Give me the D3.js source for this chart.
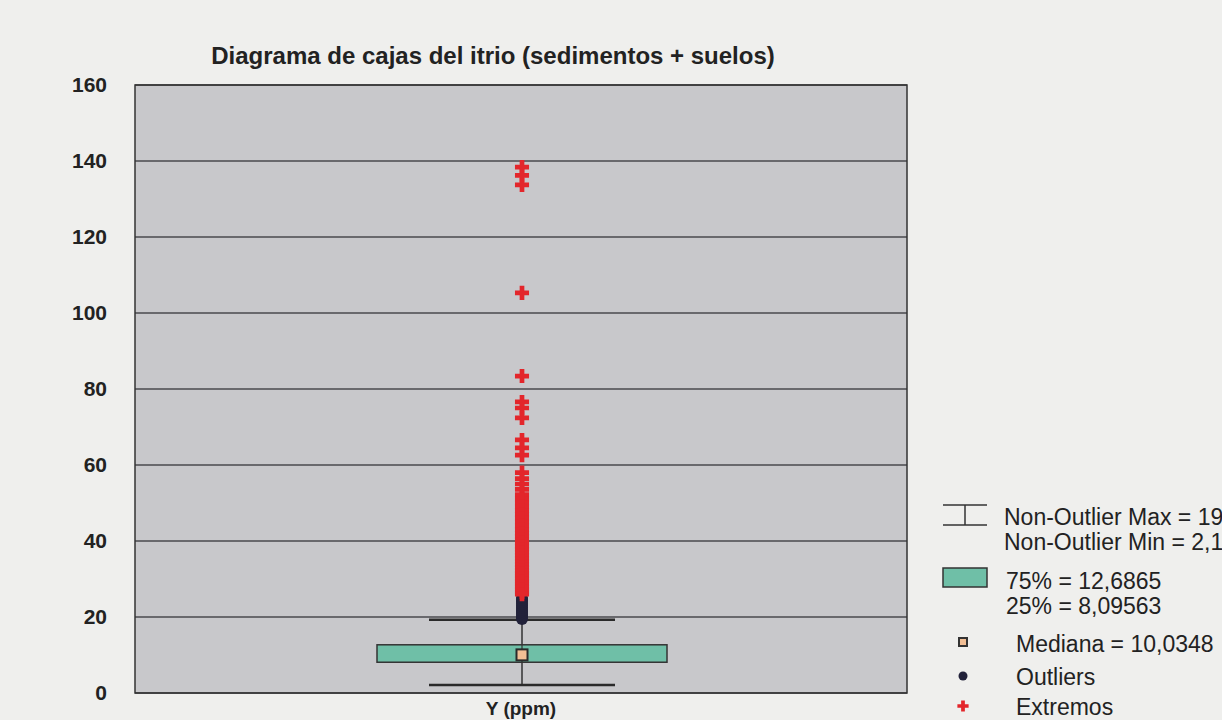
<!DOCTYPE html>
<html>
<head>
<meta charset="utf-8">
<script src="https://cdn.jsdelivr.net/npm/d3@7"></script>
<style>
  html, body { margin: 0; padding: 0; background: #efefed; overflow: hidden; }
  text { font-family: "Liberation Sans", Arial, sans-serif; }
</style>
</head>
<body>
<div id="chart"></div>
<script>
// ---- data ----
const categories = ["Y (ppm)"]
const boxStats = { min: 2.1, q1: 8.09563, median: 10.0348, q3: 12.6865, max: 19.25 }
const outliers = [19.5, 20, 20.5, 21, 21.5, 22, 22.5, 23, 23.5, 24, 24.5, 25]
const extremos = [138.4, 136.2, 133.7, 105.3, 83.4, 76.6, 75.0, 72.4, 66.6, 64.5, 62.6,
    58.0, 56.4, 55.0, 53.6, 52.2, 51.0, 50.0, 49.0, 48.0, 47.0, 46.0, 45.0, 44.0, 43.0,
    42.0, 41.2, 40.4, 39.5, 38.6, 37.8, 37.0, 36.2, 35.4, 34.6, 33.8, 33.0, 32.2, 31.5,
    30.8, 30.1, 29.4, 28.7, 28.0, 27.3, 26.6, 26.0]
const yTicks = [0, 20, 40, 60, 80, 100, 120, 140, 160]
const title = "Diagrama de cajas del itrio (sedimentos + suelos)"

const fmt = v => String(v).replace(".", ",")

const width = 1222, height = 720
const plot = { left: 135, right: 907, top: 85, bottom: 693 }

const svg = d3.select("#chart").append("svg")
    .attr("width", width)
    .attr("height", height)

let x = d3.scaleBand()
    .domain(categories)
    .range([plot.left, plot.right])

let y = d3.scaleLinear()
    .domain([0, 160])
    .range([plot.bottom, plot.top])

// plot background
svg.append("rect")
    .attr("x", plot.left)
    .attr("y", plot.top)
    .attr("width", plot.right - plot.left)
    .attr("height", plot.bottom - plot.top)
    .attr("fill", "#c8c8cb")

// grid lines
svg.append("g")
    .selectAll("line")
    .data(yTicks)
    .join("line")
    .attr("x1", plot.left)
    .attr("x2", plot.right)
    .attr("y1", d => y(d))
    .attr("y2", d => y(d))
    .attr("stroke", "#4a4a4e")
    .attr("stroke-width", 1.5)

// frame
svg.append("rect")
    .attr("x", plot.left)
    .attr("y", plot.top)
    .attr("width", plot.right - plot.left)
    .attr("height", plot.bottom - plot.top)
    .attr("fill", "none")
    .attr("stroke", "#333")
    .attr("stroke-width", 1.5)

// y axis labels
let yAxis = d3.axisLeft(y).tickValues(yTicks).tickSize(0).tickPadding(28)
let yg = svg.append("g")
    .attr("transform", "translate(" + plot.left + ",0)")
    .call(yAxis)
yg.select(".domain").remove()
yg.selectAll("text")
    .attr("font-family", '"Liberation Sans", Arial, sans-serif')
    .attr("font-size", 21)
    .attr("font-weight", "bold")
    .attr("fill", "#222")

// x axis label
let xAxis = d3.axisBottom(x).tickSize(0).tickPadding(0)
let xg = svg.append("g")
    .attr("transform", "translate(0," + plot.bottom + ")")
    .call(xAxis)
xg.select(".domain").remove()
xg.selectAll("text")
    .attr("dy", null)
    .attr("y", 22)
    .attr("font-family", '"Liberation Sans", Arial, sans-serif')
    .attr("font-size", 19)
    .attr("font-weight", "bold")
    .attr("fill", "#222")

// title
svg.append("text")
    .attr("x", 493)
    .attr("y", 64)
    .attr("text-anchor", "middle")
    .attr("font-size", 24)
    .attr("font-weight", "bold")
    .attr("fill", "#222")
    .text(title)

// ---- box plot ----
let cx = x(categories[0]) + x.bandwidth() / 2 + 1
let boxHalf = 145, capHalf = 93

let g = svg.append("g")

g.append("line")
    .attr("x1", cx).attr("x2", cx)
    .attr("y1", y(boxStats.min)).attr("y2", y(boxStats.max))
    .attr("stroke", "#333").attr("stroke-width", 1.5)

g.selectAll(".cap")
    .data([boxStats.min, boxStats.max])
    .join("line")
    .attr("class", "cap")
    .attr("x1", cx - capHalf).attr("x2", cx + capHalf)
    .attr("y1", d => y(d)).attr("y2", d => y(d))
    .attr("stroke", "#2a2a2a").attr("stroke-width", 2.5)

g.append("rect")
    .attr("x", cx - boxHalf)
    .attr("y", y(boxStats.q3))
    .attr("width", boxHalf * 2)
    .attr("height", y(boxStats.q1) - y(boxStats.q3))
    .attr("fill", "#6fbfa7")
    .attr("stroke", "#333")
    .attr("stroke-width", 1.5)

g.append("line")
    .attr("x1", cx).attr("x2", cx)
    .attr("y1", y(boxStats.q3)).attr("y2", y(boxStats.q1))
    .attr("stroke", "#333").attr("stroke-width", 1.2)

g.append("rect")
    .attr("x", cx - 5.5)
    .attr("y", y(boxStats.median) - 5.5)
    .attr("width", 11).attr("height", 11)
    .attr("fill", "#f2bf95")
    .attr("stroke", "#2a2a2a")
    .attr("stroke-width", 2)

// outliers
g.selectAll(".outlier")
    .data(outliers)
    .join("circle")
    .attr("class", "outlier")
    .attr("cx", cx)
    .attr("cy", d => y(d))
    .attr("r", 6)
    .attr("fill", "#22223a")

// extremes as red crosses
let cross = d3.symbol().type(d3.symbolCross).size(110)
g.selectAll(".extremo")
    .data(extremos)
    .join("path")
    .attr("class", "extremo")
    .attr("d", cross)
    .attr("transform", d => "translate(" + cx + "," + y(d) + ")")
    .attr("fill", "#e3262b")

// ---- legend ----
let lg = svg.append("g").attr("font-size", 23).attr("fill", "#222")
let lx = 943, tx = 1004

lg.append("line").attr("x1", lx).attr("x2", lx + 44).attr("y1", 505).attr("y2", 505)
    .attr("stroke", "#333").attr("stroke-width", 1.5)
lg.append("line").attr("x1", lx).attr("x2", lx + 44).attr("y1", 525).attr("y2", 525)
    .attr("stroke", "#333").attr("stroke-width", 1.5)
lg.append("line").attr("x1", lx + 22).attr("x2", lx + 22).attr("y1", 505).attr("y2", 525)
    .attr("stroke", "#333").attr("stroke-width", 1.5)
lg.append("text").attr("x", tx).attr("y", 525).text("Non-Outlier Max = " + fmt(boxStats.max))
lg.append("text").attr("x", tx).attr("y", 550).text("Non-Outlier Min = " + fmt(boxStats.min))

lg.append("rect").attr("x", lx).attr("y", 568).attr("width", 44).attr("height", 19)
    .attr("fill", "#6fbfa7").attr("stroke", "#333").attr("stroke-width", 1.5)
lg.append("text").attr("x", tx + 2).attr("y", 589).text("75% = " + fmt(boxStats.q3))
lg.append("text").attr("x", tx + 2).attr("y", 614).text("25% = " + fmt(boxStats.q1))

lg.append("rect").attr("x", 959).attr("y", 638).attr("width", 8).attr("height", 8)
    .attr("fill", "#f2bf95").attr("stroke", "#333").attr("stroke-width", 2)
lg.append("text").attr("x", 1016).attr("y", 652).text("Mediana = " + fmt(boxStats.median))

lg.append("circle").attr("cx", 963).attr("cy", 676).attr("r", 4.5).attr("fill", "#22223a")
lg.append("text").attr("x", 1016).attr("y", 685).text("Outliers")

lg.append("path").attr("d", d3.symbol().type(d3.symbolCross).size(70))
    .attr("transform", "translate(963,706)").attr("fill", "#e3262b")
lg.append("text").attr("x", 1016).attr("y", 715).text("Extremos")
</script>
</body>
</html>
